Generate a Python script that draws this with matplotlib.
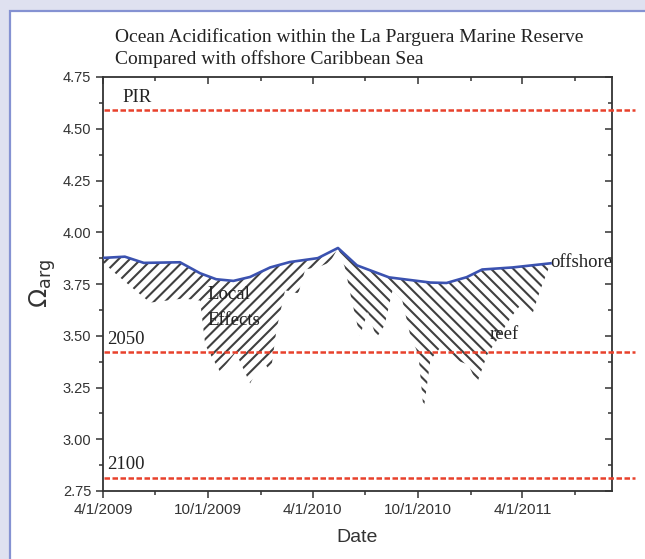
import matplotlib as mpl
import matplotlib.pyplot as plt
import matplotlib.patches as patches
import matplotlib.dates as mdates
import numpy as np

mpl.rcParams.update(
    {
        "font.family": "Liberation Sans",
        "hatch.linewidth": 1.5,
    }
)

# -----------------------------
# data
# -----------------------------
offshore_dates = [
    "2009-04-01", "2009-05-09", "2009-06-11", "2009-08-13", "2009-09-17",
    "2009-10-15", "2009-11-14", "2009-12-13", "2010-01-17", "2010-02-20",
    "2010-04-10", "2010-05-15", "2010-06-17", "2010-08-12", "2010-10-23",
    "2010-11-20", "2010-12-25", "2011-01-21", "2011-03-15", "2011-05-20",
]
offshore_vals = [
    3.876, 3.882, 3.852, 3.855, 3.802,
    3.773, 3.765, 3.784, 3.830, 3.856,
    3.875, 3.924, 3.840, 3.782, 3.757,
    3.755, 3.783, 3.820, 3.830, 3.850,
]

# reef (lower edge of hatched area), before and after the 2010 peak
reef_a_dates = [
    "2009-04-01", "2009-04-27", "2009-05-27", "2009-06-22", "2009-08-19",
    "2009-09-17", "2009-09-26", "2009-10-22", "2009-11-18", "2009-12-13",
    "2010-01-04", "2010-01-18", "2010-01-28", "2010-02-12", "2010-03-07",
    "2010-03-19", "2010-04-14", "2010-05-01", "2010-05-15",
]
reef_a_vals = [
    3.855, 3.790, 3.720, 3.660, 3.680,
    3.670, 3.455, 3.325, 3.420, 3.270,
    3.380, 3.325, 3.530, 3.720, 3.705,
    3.820, 3.835, 3.855, 3.924,
]
reef_b_dates = [
    "2010-05-15", "2010-05-27", "2010-06-08", "2010-06-22", "2010-07-06",
    "2010-07-21", "2010-08-04", "2010-08-18", "2010-09-04", "2010-09-18",
    "2010-10-02", "2010-10-11", "2010-10-23", "2010-11-13", "2010-12-09",
    "2010-12-28", "2011-01-12", "2011-01-30", "2011-02-16", "2011-03-11",
    "2011-04-01", "2011-04-19", "2011-05-02", "2011-05-20",
]
reef_b_vals = [
    3.924, 3.830, 3.670, 3.500, 3.615,
    3.490, 3.550, 3.720, 3.670, 3.500,
    3.410, 3.140, 3.385, 3.455, 3.380,
    3.360, 3.270, 3.410, 3.480, 3.585,
    3.660, 3.610, 3.720, 3.850,
]

levels = [4.59, 3.42, 2.815]
level_names = ["PIR", "2050", "2100"]
level_span = ["2009-04-03", "2011-10-14"]

x_major = ["2009-04-01", "2009-10-01", "2010-04-01", "2010-10-01", "2011-04-01"]
x_minor = ["2009-07-01", "2010-01-01", "2010-07-01", "2011-01-01", "2011-07-01"]
x_limits = ["2009-04-01", "2011-09-04"]
x_ticklabels = ["4/1/2009", "10/1/2009", "4/1/2010", "10/1/2010", "4/1/2011"]


def to_num(dates):
    return mdates.datestr2num(dates)


def day(date):
    return mdates.datestr2num(date)


# -----------------------------
# figure + framed white panel
# -----------------------------
fig = plt.figure(figsize=(6.45, 5.59), dpi=100)
fig.patch.set_facecolor("#dfe1f0")
fig.patches.append(
    patches.Rectangle(
        (10 / 645, -0.05), 1.1, 1.05 - 11 / 559,
        transform=fig.transFigure, facecolor="white",
        edgecolor="#8592d2", linewidth=1.6, zorder=-5,
    )
)

ax = fig.add_axes([103 / 645, 1 - 491 / 559, 509 / 645, 414 / 559])
ax.set_facecolor("none")

off_x = to_num(offshore_dates)
ra_x = to_num(reef_a_dates)
rb_x = to_num(reef_b_dates)
peak = offshore_dates.index("2010-05-15")

# hatched "local effects" areas
ax.fill(
    np.concatenate([off_x[: peak + 1], ra_x[::-1]]),
    np.concatenate([offshore_vals[: peak + 1], reef_a_vals[::-1]]),
    facecolor="none", edgecolor="#404040", linewidth=0, hatch="///",
)
ax.fill(
    np.concatenate([off_x[peak:], rb_x[::-1]]),
    np.concatenate([offshore_vals[peak:], reef_b_vals[::-1]]),
    facecolor="none", edgecolor="#404040", linewidth=0, hatch="\\\\\\",
)

# offshore line
ax.plot(off_x, offshore_vals, color="#3b52b0", linewidth=1.9, zorder=4)

# reference levels
span = to_num(level_span)
for lv in levels:
    ax.plot(span, [lv, lv], color="#e8412c", linewidth=1.8,
            dashes=(2.2, 1.0), clip_on=False, zorder=3)

serif = "Liberation Serif"
txt = dict(family=serif, fontsize=13.5, ha="left", va="center", color="#222222")
ax.text(day("2009-05-04"), 4.653, level_names[0], **txt)
ax.text(day("2009-04-08"), 3.484, level_names[1], **txt)
ax.text(day("2009-04-08"), 2.876, level_names[2], **txt)
ax.text(day("2009-09-29"), 3.697, "Local", **txt)
ax.text(day("2009-09-29"), 3.576, "Effects", **txt)
ax.text(day("2011-02-03"), 3.508, "reef", **txt)
ax.text(day("2011-05-20"), 3.856, "offshore", **txt)

# axes styling
ax.set_xlim(to_num(x_limits))
ax.set_ylim(2.75, 4.75)
ax.set_xticks(to_num(x_major))
ax.set_xticks(to_num(x_minor), minor=True)
ax.set_xticklabels(x_ticklabels)
ax.set_yticks(np.arange(2.75, 4.76, 0.25))
ax.set_yticks(np.arange(2.875, 4.75, 0.25), minor=True)
ax.yaxis.set_major_formatter(mpl.ticker.FormatStrFormatter("%.2f"))

for s in ax.spines.values():
    s.set_linewidth(1.3)
    s.set_color("#333333")

ax.tick_params(which="both", direction="out", colors="#333333",
               labelcolor="#333333", labelsize=10.5, width=1.1)
ax.tick_params(axis="x", labelsize=11)
ax.tick_params(which="major", length=5)
ax.tick_params(which="minor", length=3)
ax.tick_params(which="both", top=True, right=True)
for t in ax.xaxis.get_ticklines(minor=False)[1::2] + ax.xaxis.get_ticklines(minor=True)[1::2]:
    t.set_marker(mpl.lines.TICKDOWN)
for t in ax.yaxis.get_ticklines(minor=False)[1::2] + ax.yaxis.get_ticklines(minor=True)[1::2]:
    t.set_marker(mpl.lines.TICKLEFT)

ax.set_xlabel("Date", fontsize=14, color="#333333", labelpad=9)
ax.set_ylabel(r"$\Omega_{\mathrm{arg}}$", fontsize=18, color="#333333",
              labelpad=3)

# title
fig.text(115 / 645, 1 - 37 / 559,
         "Ocean Acidification within the La Parguera Marine Reserve",
         family=serif, fontsize=14, ha="left", va="center", color="#222222")
fig.text(115 / 645, 1 - 59 / 559, "Compared with offshore Caribbean Sea",
         family=serif, fontsize=14, ha="left", va="center", color="#222222")

plt.savefig("out.png", dpi=100)
